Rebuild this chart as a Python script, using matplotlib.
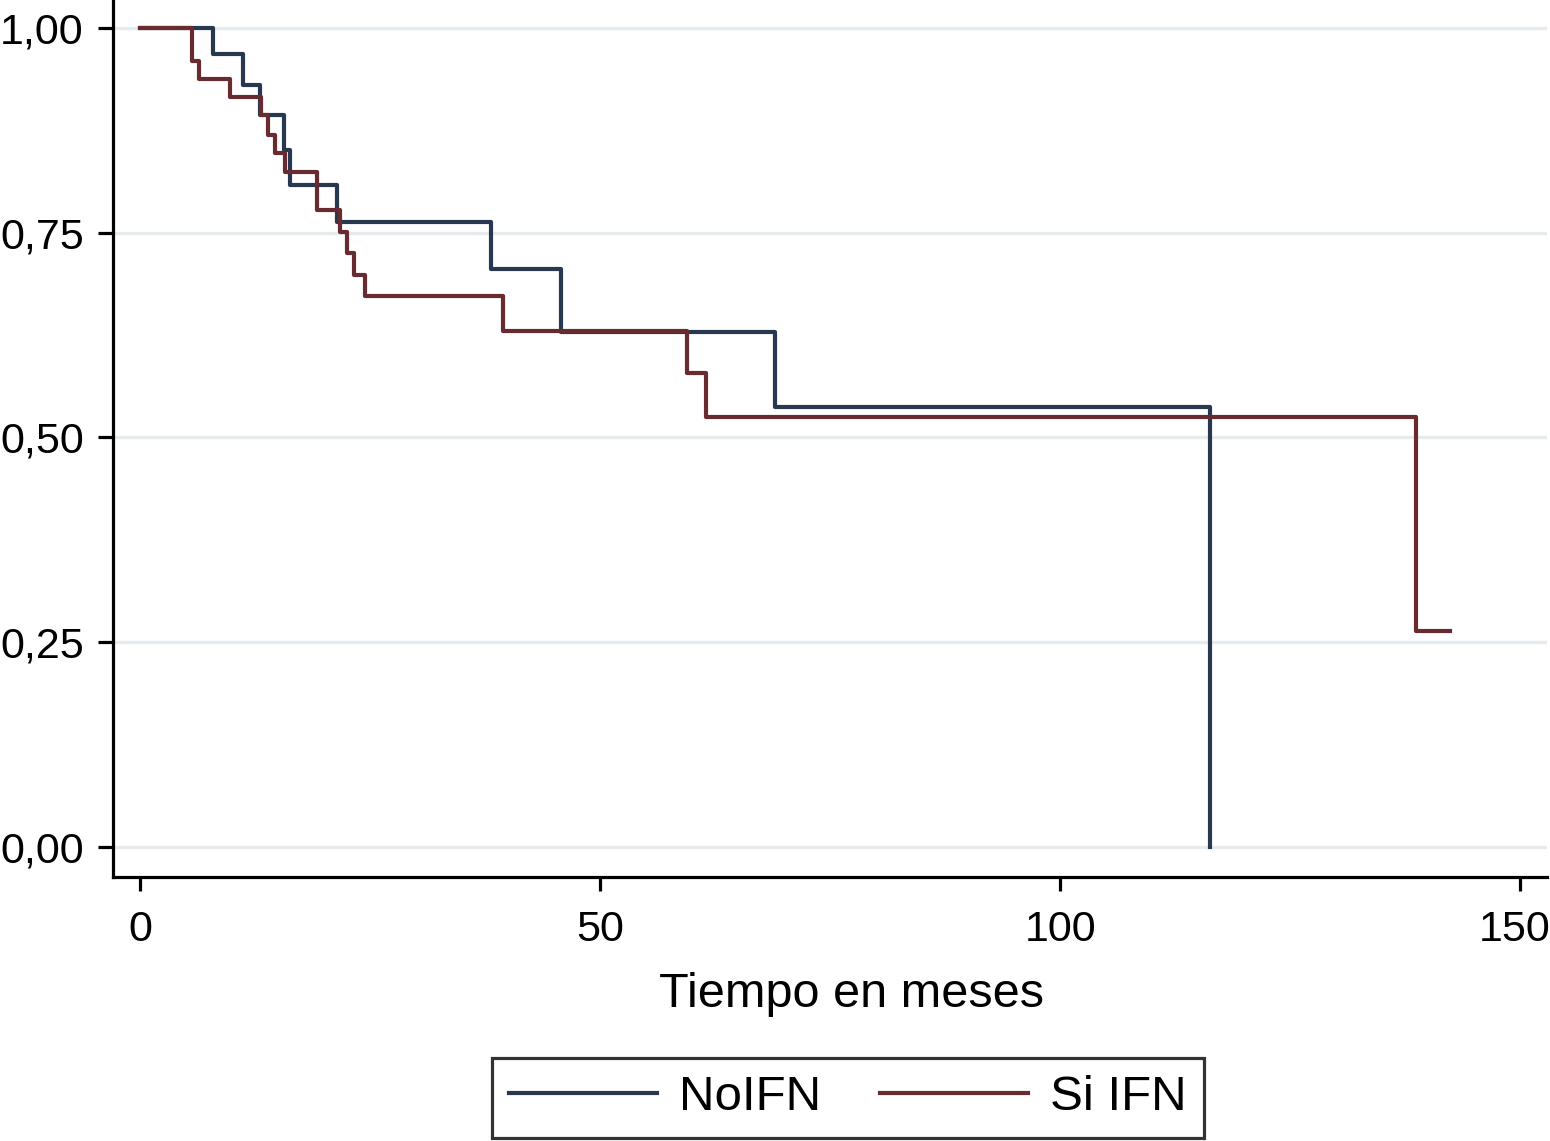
import matplotlib.pyplot as plt
from matplotlib.transforms import ScaledTranslation

# Kaplan-Meier estimates
no_ifn_time = [0, 7.9, 11.2, 13.0, 15.6, 16.3, 21.4, 38.2, 45.8, 69.0, 116.3]
no_ifn_surv = [1.0, 0.968, 0.930, 0.894, 0.851, 0.808, 0.763, 0.706, 0.628, 0.537, 0.0]

si_ifn_time = [0, 5.7, 6.4, 9.8, 13.2, 13.9, 14.7, 15.8, 19.2, 21.7, 22.5, 23.3,
               24.5, 39.4, 59.4, 61.5, 138.7, 142.4]
si_ifn_surv = [1.0, 0.959, 0.937, 0.916, 0.894, 0.869, 0.847, 0.824, 0.777, 0.751,
               0.725, 0.698, 0.673, 0.630, 0.579, 0.525, 0.263, 0.263]

y_ticks = [0.0, 0.25, 0.5, 0.75, 1.0]
y_labels = ['0,00', '0,25', '0,50', '0,75', '1,00']
x_ticks = [0, 50, 100, 150]
series_names = ['NoIFN', 'Si IFN']

plt.rcParams['font.family'] = ['Liberation Sans', 'DejaVu Sans']

fig = plt.figure(figsize=(15.5, 11.41), dpi=100)
ax = fig.add_axes([0.0729, 0.2314, 0.9251, 0.7686])

# light horizontal grid
for y in y_ticks:
    ax.axhline(y, color='#e6ebee', linewidth=2.4, zorder=0)

ax.plot(no_ifn_time, no_ifn_surv, drawstyle='steps-post', color='#283850',
        linewidth=3.0, label=series_names[0])
ax.plot(si_ifn_time, si_ifn_surv, drawstyle='steps-post', color='#672b30',
        linewidth=3.0, label=series_names[1])

ax.set_xlim(-2.93, 152.9)
ax.set_ylim(-0.037, 1.034)
ax.set_yticks(y_ticks)
ax.set_yticklabels(y_labels)
ax.set_xticks(x_ticks)

for side in ['top', 'right']:
    ax.spines[side].set_visible(False)
for side in ['left', 'bottom']:
    ax.spines[side].set_linewidth(2.3)
    ax.spines[side].set_color('black')

ax.tick_params(axis='y', length=11, width=2.3, pad=10, labelsize=31)
ax.tick_params(axis='x', length=10, width=2.3, pad=14, labelsize=31)

# keep the last x label inside the figure
last = ax.get_xticklabels()[-1]
last.set_transform(last.get_transform() + ScaledTranslation(-6 / 100, 0, fig.dpi_scale_trans))

ax.set_xlabel('Tiempo en meses', fontsize=35)
ax.xaxis.set_label_coords(0.515, -0.108)
ax.xaxis.label.set_va('top')

leg = fig.legend(loc='lower center', bbox_to_anchor=(848 / 1550, 0.003), ncol=2,
                 fontsize=35.5, frameon=True, fancybox=False, handlelength=3.0,
                 handletextpad=0.45, columnspacing=1.2, borderpad=0.35,
                 borderaxespad=0)
leg.get_frame().set_edgecolor('black')
leg.get_frame().set_linewidth(2.3)

fig.savefig('out.png', dpi=100)
plt.close(fig)
